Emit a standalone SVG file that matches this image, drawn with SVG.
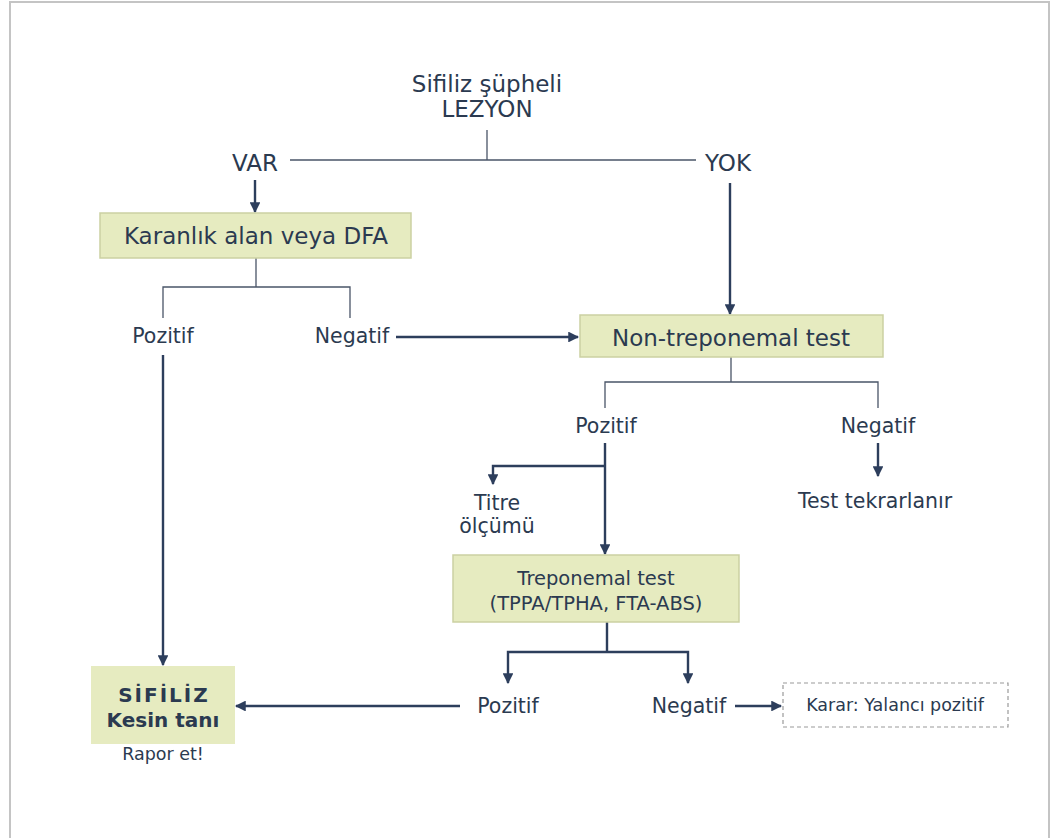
<svg xmlns="http://www.w3.org/2000/svg" width="1054" height="838" viewBox="0 0 1054 838">
<style>
text{font-family:"DejaVu Sans","Verdana",sans-serif;fill:#2b3a50;text-anchor:middle}
.t23{font-size:23px}
.t20{font-size:20.5px}
.t19{font-size:19.5px}
.t17{font-size:17.5px}
.box{fill:#e6ebc0;stroke:#cbd1a2;stroke-width:1.5}
.thin{stroke:#4a5568;stroke-width:1.3;fill:none}
.arr{stroke:#2d3e5c;stroke-width:2.4;fill:none}
</style>
<defs>
<marker id="ah" viewBox="0 0 10 10" refX="9" refY="5" markerWidth="4.5" markerHeight="4.5" orient="auto" markerUnits="strokeWidth">
<path d="M0,0 L10,5 L0,10 z" fill="#2d3e5c"/>
</marker>
</defs>
<rect x="10" y="2" width="1039" height="840" fill="#fff" stroke="#c4c4c4" stroke-width="2"/>
<g id="connectors">
<path class="thin" d="M487,130 V160 M290,160 H696"/>
<path class="arr" d="M255,180 V212" marker-end="url(#ah)"/>
<path class="thin" d="M256,258 V287 M163,318 V287 H350 V318"/>
<path class="arr" d="M396,337 H578" marker-end="url(#ah)"/>
<path class="arr" d="M163,355 V665" marker-end="url(#ah)"/>
<path class="arr" d="M730,183 V314" marker-end="url(#ah)"/>
<path class="thin" d="M731,357 V382 M605,408 V382 H878 V408"/>
<path class="arr" d="M878,443 V476" marker-end="url(#ah)"/>
<path class="arr" d="M605,443 V554" marker-end="url(#ah)"/>
<path class="arr" d="M605,466 H493 V484" marker-end="url(#ah)"/>
<path class="arr" d="M607,622 V652 M607,652 H508 V683" marker-end="url(#ah)"/>
<path class="arr" d="M607,652 H688 V683" marker-end="url(#ah)"/>
<path class="arr" d="M460,706 H236" marker-end="url(#ah)"/>
<path class="arr" d="M735,706 H781" marker-end="url(#ah)"/>
</g>
<g id="lezyon"><text class="t23" x="487" y="92">Sifiliz şüpheli</text><text class="t23" x="487" y="117">LEZYON</text></g>
<g id="var"><text class="t23" x="255" y="171">VAR</text></g>
<g id="yok"><text class="t23" x="728" y="171">YOK</text></g>
<g id="karanlik"><rect class="box" x="100" y="213" width="311" height="45"/><text class="t23" x="256" y="244">Karanlık alan veya DFA</text></g>
<g id="poz1"><text class="t20" x="163" y="343">Pozitif</text></g>
<g id="neg1"><text class="t20" x="352" y="343">Negatif</text></g>
<g id="nontrep"><rect class="box" x="580" y="315" width="303" height="42"/><text class="t23" x="731" y="346">Non-treponemal test</text></g>
<g id="poz2"><text class="t20" x="606" y="433">Pozitif</text></g>
<g id="neg2"><text class="t20" x="878" y="433">Negatif</text></g>
<g id="tekrar"><text class="t20" x="875" y="508">Test tekrarlanır</text></g>
<g id="titre"><text class="t20" x="497" y="510">Titre</text><text class="t20" x="497" y="533">ölçümü</text></g>
<g id="trep"><rect class="box" x="453" y="555" width="286" height="67"/><text class="t19" x="596" y="585">Treponemal test</text><text class="t19" x="596" y="610">(TPPA/TPHA, FTA-ABS)</text></g>
<g id="poz3"><text class="t20" x="508" y="713">Pozitif</text></g>
<g id="neg3"><text class="t20" x="689" y="713">Negatif</text></g>
<g id="karar"><rect x="783" y="683" width="225" height="44" fill="#fff" stroke="#9a9a9a" stroke-width="1.2" stroke-dasharray="4,3"/><text class="t17" x="895" y="711">Karar: Yalancı pozitif</text></g>
<g id="sifiliz"><rect x="91" y="666" width="144" height="78" fill="#e6ebc0"/><text x="164" y="702" font-size="20" font-weight="bold" letter-spacing="2">SİFİLİZ</text><text x="163" y="727" font-size="20" font-weight="bold">Kesin tanı</text><text class="t17" x="163" y="760">Rapor et!</text></g>
</svg>
